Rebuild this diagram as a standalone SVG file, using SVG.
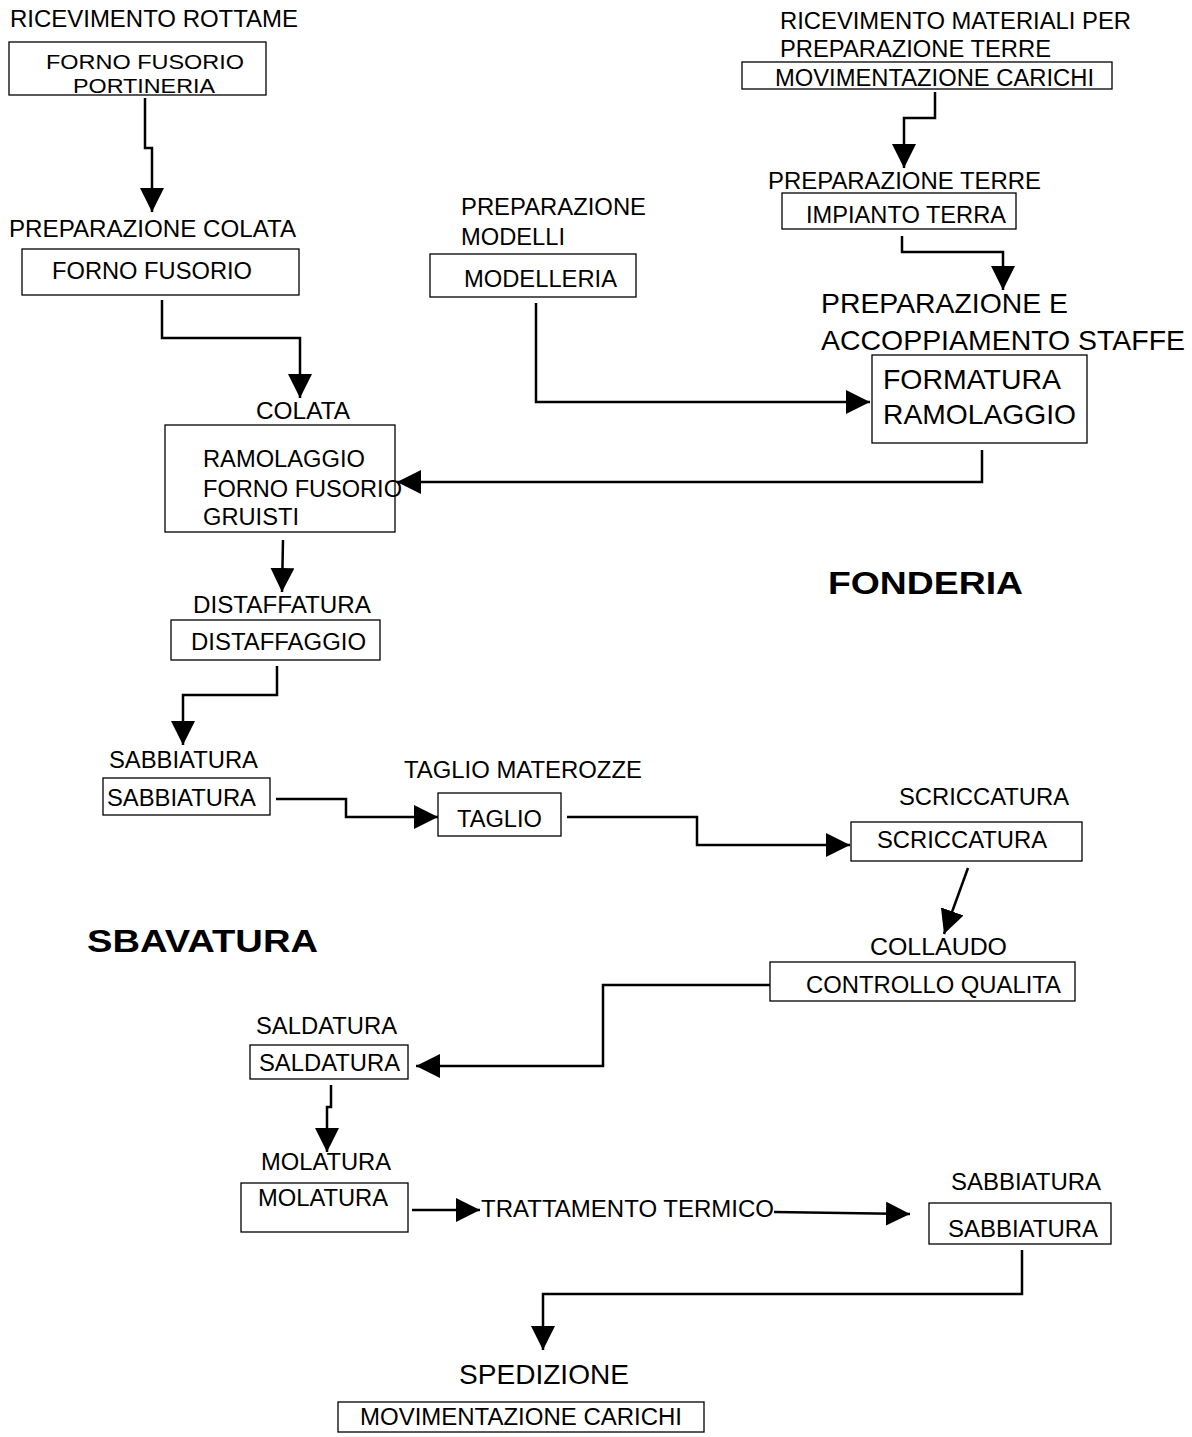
<svg xmlns="http://www.w3.org/2000/svg" width="1192" height="1437" viewBox="0 0 1192 1437">
<style>
text{font-family:"Liberation Sans",Arial,sans-serif;font-size:23px;fill:#000}
.sm{font-size:21px}
.big{font-size:28px}
.bold{font-size:32px;font-weight:bold}
rect{fill:#fff;stroke:#000;stroke-width:1.3}
.c path{fill:none;stroke:#000;stroke-width:2.5;marker-end:url(#ah)}
</style>
<defs>
<marker id="ah" markerUnits="userSpaceOnUse" markerWidth="24" markerHeight="24" refX="24" refY="12" orient="auto" viewBox="0 0 24 24">
<path d="M0,0 L24,12 L0,24 z" fill="#000"/>
</marker>
</defs>
<rect x="0" y="0" width="1192" height="1437" style="stroke:none"/>
<g class="c">
<path d="M145,98 V148 H152 V212"/>
<path d="M162,300 V338 H300 V398"/>
<path d="M982,450 V482 H397"/>
<path d="M536,303 V402 H870"/>
<path d="M935,92 V118 H904 V168"/>
<path d="M902,236 V252 H1003 V290"/>
<path d="M283,540 L282,592"/>
<path d="M277,666 V695 H183 V745"/>
<path d="M276,799 H346 V817 H438"/>
<path d="M567,817 H697 V845 H850"/>
<path d="M968,868 L944,934"/>
<path d="M770,985 H603 V1066 H416"/>
<path d="M331,1085 V1107 H327 V1152"/>
<path d="M412,1210 H480"/>
<path d="M774,1212 L910,1214"/>
<path d="M1022,1250 V1294 H543 V1350"/>
</g>
<g id="n1">
<text x="10" y="27" textLength="288" lengthAdjust="spacingAndGlyphs">RICEVIMENTO ROTTAME</text>
<rect x="9" y="42" width="257" height="53"/>
<text class="sm" x="46" y="69" textLength="198" lengthAdjust="spacingAndGlyphs">FORNO FUSORIO</text>
<text class="sm" x="73" y="93" textLength="142" lengthAdjust="spacingAndGlyphs">PORTINERIA</text>
</g>
<g id="n2">
<text x="9" y="237" textLength="287" lengthAdjust="spacingAndGlyphs">PREPARAZIONE COLATA</text>
<rect x="22" y="249" width="277" height="46"/>
<text x="52" y="279" textLength="200" lengthAdjust="spacingAndGlyphs">FORNO FUSORIO</text>
</g>
<g id="n3">
<text x="256" y="419" textLength="94" lengthAdjust="spacingAndGlyphs">COLATA</text>
<rect x="165" y="425" width="230" height="107"/>
<text x="203" y="467" textLength="162" lengthAdjust="spacingAndGlyphs">RAMOLAGGIO</text>
<text x="203" y="497" textLength="199" lengthAdjust="spacingAndGlyphs">FORNO FUSORIO</text>
<text x="203" y="525" textLength="96" lengthAdjust="spacingAndGlyphs">GRUISTI</text>
</g>
<g id="n4">
<text x="461" y="215" textLength="185" lengthAdjust="spacingAndGlyphs">PREPARAZIONE</text>
<text x="461" y="245" textLength="104" lengthAdjust="spacingAndGlyphs">MODELLI</text>
<rect x="430" y="254" width="206" height="43"/>
<text x="464" y="287" textLength="153" lengthAdjust="spacingAndGlyphs">MODELLERIA</text>
</g>
<g id="n5">
<text x="780" y="29" textLength="351" lengthAdjust="spacingAndGlyphs">RICEVIMENTO MATERIALI PER</text>
<text x="780" y="57" textLength="271" lengthAdjust="spacingAndGlyphs">PREPARAZIONE TERRE</text>
<rect x="742" y="62" width="370" height="27"/>
<text x="775" y="86" textLength="319" lengthAdjust="spacingAndGlyphs">MOVIMENTAZIONE CARICHI</text>
</g>
<g id="n6">
<text x="768" y="189" textLength="273" lengthAdjust="spacingAndGlyphs">PREPARAZIONE TERRE</text>
<rect x="782" y="193" width="234" height="36"/>
<text x="806" y="223" textLength="200" lengthAdjust="spacingAndGlyphs">IMPIANTO TERRA</text>
</g>
<g id="n7">
<text class="big" x="821" y="313" textLength="247" lengthAdjust="spacingAndGlyphs">PREPARAZIONE E</text>
<text class="big" x="821" y="350" textLength="364" lengthAdjust="spacingAndGlyphs">ACCOPPIAMENTO STAFFE</text>
<rect x="872" y="355" width="215" height="88"/>
<text class="big" x="883" y="389" textLength="178" lengthAdjust="spacingAndGlyphs">FORMATURA</text>
<text class="big" x="883" y="424" textLength="193" lengthAdjust="spacingAndGlyphs">RAMOLAGGIO</text>
</g>
<g id="fonderia">
<text class="bold" x="828" y="594" textLength="195" lengthAdjust="spacingAndGlyphs">FONDERIA</text>
</g>
<g id="n8">
<text x="193" y="613" textLength="178" lengthAdjust="spacingAndGlyphs">DISTAFFATURA</text>
<rect x="171" y="620" width="209" height="40"/>
<text x="191" y="650" textLength="175" lengthAdjust="spacingAndGlyphs">DISTAFFAGGIO</text>
</g>
<g id="n9">
<text x="109" y="768" textLength="149" lengthAdjust="spacingAndGlyphs">SABBIATURA</text>
<rect x="103" y="778" width="167" height="37"/>
<text x="107" y="806" textLength="149" lengthAdjust="spacingAndGlyphs">SABBIATURA</text>
</g>
<g id="n10">
<text x="404" y="778" textLength="238" lengthAdjust="spacingAndGlyphs">TAGLIO MATEROZZE</text>
<rect x="438" y="793" width="123" height="43"/>
<text x="457" y="827" textLength="85" lengthAdjust="spacingAndGlyphs">TAGLIO</text>
</g>
<g id="n11">
<text x="899" y="805" textLength="170" lengthAdjust="spacingAndGlyphs">SCRICCATURA</text>
<rect x="851" y="822" width="231" height="39"/>
<text x="877" y="848" textLength="170" lengthAdjust="spacingAndGlyphs">SCRICCATURA</text>
</g>
<g id="sbavatura">
<text class="bold" x="87" y="952" textLength="231" lengthAdjust="spacingAndGlyphs">SBAVATURA</text>
</g>
<g id="n12">
<text x="870" y="955" textLength="137" lengthAdjust="spacingAndGlyphs">COLLAUDO</text>
<rect x="770" y="962" width="305" height="39"/>
<text x="806" y="993" textLength="255" lengthAdjust="spacingAndGlyphs">CONTROLLO QUALITA</text>
</g>
<g id="n13">
<text x="256" y="1034" textLength="141" lengthAdjust="spacingAndGlyphs">SALDATURA</text>
<rect x="250" y="1045" width="158" height="34"/>
<text x="259" y="1071" textLength="141" lengthAdjust="spacingAndGlyphs">SALDATURA</text>
</g>
<g id="n14">
<text x="261" y="1170" textLength="130" lengthAdjust="spacingAndGlyphs">MOLATURA</text>
<rect x="241" y="1183" width="167" height="49"/>
<text x="258" y="1206" textLength="130" lengthAdjust="spacingAndGlyphs">MOLATURA</text>
</g>
<g id="n15">
<text x="481" y="1217" textLength="293" lengthAdjust="spacingAndGlyphs">TRATTAMENTO TERMICO</text>
</g>
<g id="n16">
<text x="951" y="1190" textLength="150" lengthAdjust="spacingAndGlyphs">SABBIATURA</text>
<rect x="929" y="1203" width="182" height="41"/>
<text x="948" y="1237" textLength="150" lengthAdjust="spacingAndGlyphs">SABBIATURA</text>
</g>
<g id="n17">
<text class="big" x="459" y="1384" textLength="170" lengthAdjust="spacingAndGlyphs">SPEDIZIONE</text>
<rect x="338" y="1402" width="366" height="30"/>
<text x="360" y="1425" textLength="322" lengthAdjust="spacingAndGlyphs">MOVIMENTAZIONE CARICHI</text>
</g>
</svg>
